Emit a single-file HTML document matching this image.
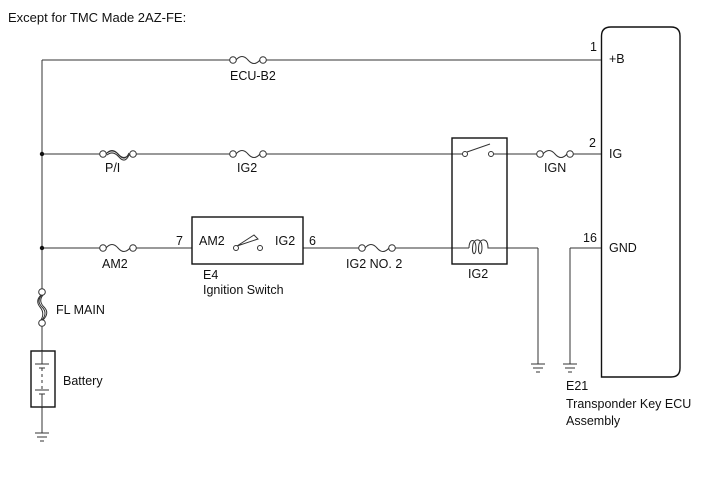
<!DOCTYPE html>
<html><head><meta charset="utf-8"><style>
html,body{margin:0;padding:0;background:#fff;}
svg{display:block;}
text{font-family:"Liberation Sans",Arial,sans-serif;font-size:12.5px;fill:#111;}
</style></head><body>
<svg width="713" height="481" viewBox="0 0 713 481" xmlns="http://www.w3.org/2000/svg">
<g stroke="#333" stroke-width="1" fill="none">
<path d="M601.5,377 V36 Q601.5,27 611,27 H671 Q680,27 680,36 V368 Q680,377 671,377 Z" stroke="#111" stroke-width="1.4"/>
<line x1="42" y1="60" x2="42" y2="289"/>
<line x1="42" y1="326" x2="42" y2="351"/>
<line x1="42" y1="407" x2="42" y2="433"/>
<line x1="42" y1="60" x2="230" y2="60"/>
<line x1="266" y1="60" x2="601" y2="60"/>
<line x1="42" y1="154" x2="100" y2="154"/>
<line x1="136" y1="154" x2="230" y2="154"/>
<line x1="266" y1="154" x2="462" y2="154"/>
<line x1="494" y1="154" x2="537" y2="154"/>
<line x1="573" y1="154" x2="601" y2="154"/>
<line x1="42" y1="248" x2="100" y2="248"/>
<line x1="136" y1="248" x2="192" y2="248"/>
<line x1="303" y1="248" x2="359" y2="248"/>
<line x1="395" y1="248" x2="469" y2="248"/>
<line x1="491" y1="248" x2="538" y2="248"/>
<line x1="538" y1="248" x2="538" y2="364"/>
<line x1="601" y1="248" x2="570" y2="248"/>
<line x1="570" y1="248" x2="570" y2="364"/>
<line x1="531" y1="364" x2="545" y2="364"/><line x1="533" y1="368" x2="543" y2="368"/><line x1="536" y1="372" x2="540" y2="372"/>
<line x1="563" y1="364" x2="577" y2="364"/><line x1="565" y1="368" x2="575" y2="368"/><line x1="568" y1="372" x2="572" y2="372"/>
<line x1="35" y1="433" x2="49" y2="433"/><line x1="37" y1="437" x2="47" y2="437"/><line x1="40" y1="441" x2="44" y2="441"/>
<circle cx="233" cy="60" r="3.3"/><circle cx="263" cy="60" r="3.3"/><path d="M236,60 Q242,53 248,60 T260,60"/>
<circle cx="233" cy="154" r="3.3"/><circle cx="263" cy="154" r="3.3"/><path d="M236,154 Q242,147 248,154 T260,154"/>
<circle cx="103" cy="154" r="3.3"/><circle cx="133" cy="154" r="3.3"/><path d="M106,154 Q112,147 118,154 T130,154"/><path d="M107,153 Q113,148 119,155 T129,153"/><path d="M107,155 Q113,150 119,157 T129,155"/>
<circle cx="103" cy="248" r="3.3"/><circle cx="133" cy="248" r="3.3"/><path d="M106,248 Q112,241 118,248 T130,248"/>
<circle cx="362" cy="248" r="3.3"/><circle cx="392" cy="248" r="3.3"/><path d="M365,248 Q371,241 377,248 T389,248"/>
<circle cx="540" cy="154" r="3.3"/><circle cx="570" cy="154" r="3.3"/><path d="M543,154 Q549,147 555,154 T567,154"/>
<circle cx="42" cy="292" r="3.3"/><circle cx="42" cy="323" r="3.3"/><path d="M42,295 Q36,301 42,307 T42,320"/><path d="M43,295 Q38,301 44,307 T43,320"/><path d="M41,295 Q35,301 40,307 T41,320"/>
<rect x="31" y="351" width="24" height="56" stroke="#111" stroke-width="1.4"/>
<line x1="42" y1="351" x2="42" y2="364"/>
<line x1="35" y1="364" x2="49" y2="364"/><line x1="39" y1="368" x2="45" y2="368"/>
<line x1="42" y1="368" x2="42" y2="390" stroke-dasharray="3,3"/>
<line x1="35" y1="390" x2="49" y2="390"/><line x1="39" y1="394" x2="45" y2="394"/>
<line x1="42" y1="394" x2="42" y2="407"/>
<rect x="192" y="217" width="111" height="47" stroke="#111" stroke-width="1.4"/>
<circle cx="236" cy="248" r="2.5"/><circle cx="260" cy="248" r="2.5"/>
<path d="M237,246 L254,235 L258,239 Z"/>
<rect x="452" y="138" width="55" height="126" stroke="#111" stroke-width="1.4"/>
<circle cx="465" cy="154" r="2.5"/><circle cx="491" cy="154" r="2.5"/>
<line x1="467" y1="152" x2="490" y2="144"/>
<path d="M469,248 C469,238 476,238 476,248 C476,256 471,256 473,244 C475,238 482,238 482,248 C482,256 477,256 479,244 C481,238 488,238 488,248 L491,248"/>
</g>
<circle cx="42" cy="154" r="2.2" fill="#111"/>
<circle cx="42" cy="248" r="2.2" fill="#111"/>
<text x="8" y="22" style="font-size:13px">Except for TMC Made 2AZ-FE:</text>
<text x="230" y="80">ECU-B2</text>
<text x="105" y="172">P/I</text>
<text x="237" y="172">IG2</text>
<text x="102" y="268">AM2</text>
<text x="176" y="245">7</text><text x="199" y="245">AM2</text><text x="275" y="245">IG2</text><text x="309" y="245">6</text>
<text x="203" y="279">E4</text><text x="203" y="294">Ignition Switch</text>
<text x="346" y="268">IG2 NO. 2</text>
<text x="468" y="278">IG2</text>
<text x="544" y="172">IGN</text>
<text x="590" y="51">1</text><text x="609" y="63">+B</text>
<text x="589" y="147">2</text><text x="609" y="158">IG</text>
<text x="583" y="242">16</text><text x="609" y="252">GND</text>
<text x="56" y="314">FL MAIN</text>
<text x="63" y="385">Battery</text>
<text x="566" y="390">E21</text>
<text x="566" y="408">Transponder Key ECU</text>
<text x="566" y="425">Assembly</text>
</svg>
</body></html>
